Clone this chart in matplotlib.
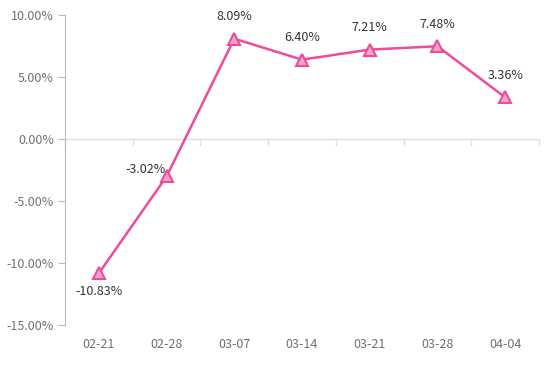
import numpy as np
import matplotlib.pyplot as plt
from matplotlib.markers import TICKDOWN
from matplotlib.ticker import FuncFormatter

# ---- data ----
dates = ['02-21', '02-28', '03-07', '03-14', '03-21', '03-28', '04-04']
values = [-10.83, -3.02, 8.09, 6.40, 7.21, 7.48, 3.36]
y_ticks = [10, 5, 0, -5, -10, -15]

line_color = '#EE4B9B'
fill_color = '#F5A3C9'
label_color = '#6E7079'
axis_color = '#E0E0E0'

plt.rcParams['font.family'] = ['Noto Sans CJK SC', 'DejaVu Sans']

fig = plt.figure(figsize=(5.54, 3.68), dpi=100)
ax = fig.add_axes([0.1173, 0.1168, 0.973 - 0.1173, 0.9592 - 0.1168])

x = np.arange(len(dates))
ax.plot(x, values, color=line_color, lw=1.8, marker='^', markersize=8,
        markerfacecolor=fill_color, markeredgecolor=line_color,
        markeredgewidth=1.5, zorder=3)

# value labels
for i, v in enumerate(values):
    if v < -5:
        off = (0, -13)
    elif v < 0:
        off = (-15, 5)
    else:
        off = (0, 16)
    ax.annotate(f'{v:.2f}%', (i, v), xytext=off, textcoords='offset points',
                ha='center', va='center', fontsize=9, color='#333333')

ax.set_xlim(-0.5, len(dates) - 0.5)
ax.set_ylim(min(y_ticks), max(y_ticks))
ax.set_yticks(y_ticks)
ax.yaxis.set_major_formatter(FuncFormatter(lambda v, p: f'{v:.2f}%'))

for s in ['top', 'right', 'bottom']:
    ax.spines[s].set_visible(False)
ax.spines['left'].set_color('#BBBBBB')
ax.tick_params(axis='y', length=5, color='#BBBBBB', labelcolor=label_color,
               labelsize=9, pad=3)

# category labels at the bottom of the plot area
ax.set_xticks(x)
ax.set_xticklabels(dates)
ax.tick_params(axis='x', length=0, labelcolor=label_color, labelsize=9, pad=9)

# zero axis line with category boundary ticks pointing down
bounds = np.arange(len(dates) + 1) - 0.5
ax.axhline(0, color=axis_color, lw=1, zorder=1)
ax.plot(bounds, np.zeros_like(bounds), ls='none', marker=TICKDOWN,
        markersize=5, markeredgewidth=1, color=axis_color, clip_on=False, zorder=1)

fig.savefig('out.png', dpi=100)
